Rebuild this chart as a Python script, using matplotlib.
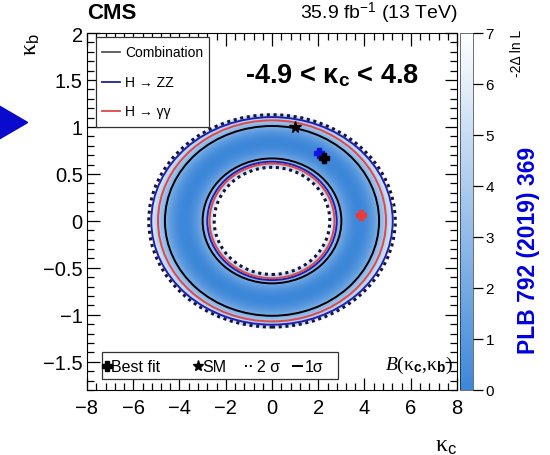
import numpy as np
import matplotlib
matplotlib.use('Agg')
import matplotlib.pyplot as plt
from matplotlib.patches import Ellipse, Rectangle, Polygon
from matplotlib.colors import LinearSegmentedColormap
from matplotlib.lines import Line2D

plt.rcParams['font.family'] = ['Liberation Sans', 'DejaVu Sans']
plt.rcParams['mathtext.fontset'] = 'custom'
plt.rcParams['mathtext.rm'] = 'Liberation Sans'
plt.rcParams['mathtext.it'] = 'Liberation Serif:italic'
plt.rcParams['mathtext.bf'] = 'Liberation Sans:bold'

# contour semi-axes [inner, outer] in (kappa_c, kappa_b), centred on the origin
comb_1s_a = [3.0, 4.63]
comb_1s_b = [0.665, 1.01]
comb_2s_a = [2.5, 5.33]
comb_2s_b = [0.57, 1.13]
zz_a = [2.8, 5.22]
zz_b = [0.63, 1.105]
gg_a = [2.7, 4.93]
gg_b = [0.61, 1.07]

# best fit points and SM
best_comb = (2.25, 0.67)
best_zz = (2.03, 0.72)
best_gg = (3.83, 0.06)
sm_point = (1.0, 1.0)

# -2 dlnL of the combination across the ring (normalised radius)
ring_r = [0.56, 0.66, 0.835, 1.01, 1.15]
ring_nll = [5.99, 2.3, 0.0, 2.3, 5.99]
kc_scale = 4.55

xlim = (-8, 8)
ylim = (-1.8, 2)

W, H = 550, 456
fig = plt.figure(figsize=(W / 100, H / 100), dpi=100)
ax = fig.add_axes([87 / W, 1 - 391 / H, 370 / W, 357 / H])

# likelihood surface built from the combination levels
kc = np.linspace(xlim[0], xlim[1], 801)
kb = np.linspace(ylim[0], ylim[1], 401)
KC, KB = np.meshgrid(kc, kb)
r = np.hypot(KC / kc_scale, KB)
signed = np.sign(np.array(ring_r) - ring_r[2]) * np.sqrt(ring_nll)
nll = np.interp(r, ring_r, signed, left=-10, right=10) ** 2
nll = np.ma.masked_greater(nll, 7)

cmap = LinearSegmentedColormap.from_list('nll', ['#3d87d9', '#ffffff'])
cmap.set_bad('white')
im = ax.imshow(nll, extent=(*xlim, *ylim), origin='lower', aspect='auto',
               cmap=cmap, vmin=0, vmax=7, interpolation='bilinear')


def ring(a_list, b_list, **kw):
    for a, b in zip(a_list, b_list):
        ax.add_patch(Ellipse((0, 0), 2 * a, 2 * b, fill=False, **kw))


ring(comb_2s_a, comb_2s_b, ec='#14143c', lw=2.2, ls=(0, (1, 1.2)))
ring(zz_a, zz_b, ec='#2020b0', lw=1.4)
ring(gg_a, gg_b, ec='#e04848', lw=1.4)
ring(comb_1s_a, comb_1s_b, ec='black', lw=1.4)

ax.plot(*sm_point, marker='*', color='black', ms=8.5, ls='none')
ax.plot(*best_zz, marker='P', color='#1414e0', ms=6.5, ls='none')
ax.plot(*best_gg, marker='P', color='#e83c3c', ms=6.5, ls='none')
ax.plot(*best_comb, marker='P', color='black', ms=6.5, ls='none')

ax.set_xlim(*xlim)
ax.set_ylim(*ylim)
ax.set_xticks(np.arange(-8, 9, 2))
ax.set_yticks([-1.5, -1, -0.5, 0, 0.5, 1, 1.5, 2])
ax.set_yticklabels(['\u22121.5', '\u22121', '\u22120.5', '0', '0.5', '1', '1.5', '2'])
ax.set_xticks(np.arange(-8, 8.01, 0.4), minor=True)
ax.set_yticks(np.arange(-1.8, 2.01, 0.1), minor=True)
ax.tick_params(which='both', direction='in', top=True, right=True, width=0.9)
ax.tick_params(which='major', length=9, labelsize=14.5)
ax.tick_params(axis='x', which='major', pad=6)
ax.tick_params(axis='y', which='major', pad=3)
ax.tick_params(which='minor', length=5)

# legend of the channels
tA = ax.transAxes
ax.add_patch(Rectangle((0.0243, 0.737), 0.3054, 0.252, transform=tA,
                       fill=True, fc='white', ec='#333333', lw=0.9, zorder=5))
chan_labels = ['Combination', 'H \u2192 ZZ', 'H \u2192 \u03b3\u03b3']
chan_colors = ['#555555', '#2020a0', '#e04848']
chan_y = [0.947, 0.863, 0.782]
for lab, col, yy in zip(chan_labels, chan_colors, chan_y):
    ax.add_line(Line2D([0.041, 0.089], [yy, yy], transform=tA, color=col,
                       lw=1.3, zorder=6))
    ax.text(0.103, yy, lab, transform=tA, fontsize=10, va='center', zorder=6)

# legend of the markers and contour styles
ax.add_patch(Rectangle((0.0405, 0.0308), 0.6375, 0.0756, transform=tA,
                       fill=True, fc='white', ec='#333333', lw=0.9, zorder=5))
ly = 0.067
ax.plot(0.054, ly, marker='P', color='black', ms=7, transform=tA, zorder=6)
ax.text(0.064, ly, 'Best fit', transform=tA, fontsize=11.5, va='center', zorder=6)
ax.plot(0.30, ly, marker='*', color='black', ms=8, transform=tA, zorder=6)
ax.text(0.311, ly, 'SM', transform=tA, fontsize=11.5, va='center', zorder=6)
ax.add_line(Line2D([0.427, 0.449], [ly, ly], transform=tA, color='black',
                   lw=1.4, ls=(0, (1, 1.5)), zorder=6))
ax.text(0.459, ly, '2 \u03c3', transform=tA, fontsize=11.5, va='center', zorder=6)
ax.add_line(Line2D([0.557, 0.581], [ly, ly], transform=tA, color='black',
                   lw=1.4, zorder=6))
ax.text(0.589, ly, '1\u03c3', transform=tA, fontsize=11.5, va='center', zorder=6)

ax.text(0.989, 0.073, '$B$(\u03ba$_\\mathbf{c}$,\u03ba$_\\mathbf{b}$)', transform=tA,
        fontsize=14, ha='right', va='center', family=['Liberation Serif', 'DejaVu Serif'])

ax.text(0.427, 0.863, '-4.9 < \u03ba$_\\mathbf{c}$ < 4.8', transform=tA,
        fontsize=19.5, weight='bold', va='baseline')

# colour scale
cax = fig.add_axes([460 / W, 1 - 391 / H, 13 / W, 357 / H])
cb = fig.colorbar(im, cax=cax, ticks=range(8))
cb.outline.set_linewidth(0.4)
cax.tick_params(direction='out', length=7, width=0.9, labelsize=11, pad=2)
fig.text(517 / W, 1 - 30 / H, '-2\u0394 ln L', rotation=90, ha='center', va='top',
         fontsize=10)

# header and axis titles
fig.text(87 / W, 1 - 19 / H, 'CMS', fontsize=16, weight='bold', va='baseline')
fig.text(458 / W, 1 - 19 / H, '35.9 fb$^{-1}$ (13 TeV)', fontsize=14,
         ha='right', va='baseline')
fig.text(31 / W, 1 - 33 / H, '\u03ba$_\\mathrm{b}$', rotation=90, ha='center', va='top',
         fontsize=17, family=['Liberation Serif', 'DejaVu Serif'])
fig.text(457 / W, 1 - 447 / H, '\u03ba$_\\mathrm{c}$', ha='right', va='center',
         fontsize=17, family=['Liberation Serif', 'DejaVu Serif'])

fig.text(528 / W, 1 - 250 / H, 'PLB 792 (2019) 369', rotation=90, ha='center',
         va='center', fontsize=16.5, weight='bold', color='#0000e0')

# pointer arrow on the left edge
tip_x, tip_y = 27, 123.5
arrow = Polygon([[(-40) / W, 1 - (tip_y - 39) / H], [tip_x / W, 1 - tip_y / H],
                 [(-40) / W, 1 - (tip_y + 39) / H]], closed=True,
                transform=fig.transFigure, fc='#0a0acd', ec='#0a0acd', lw=1.5,
                joinstyle='round')
fig.add_artist(arrow)

fig.savefig('out.png', dpi=100)
